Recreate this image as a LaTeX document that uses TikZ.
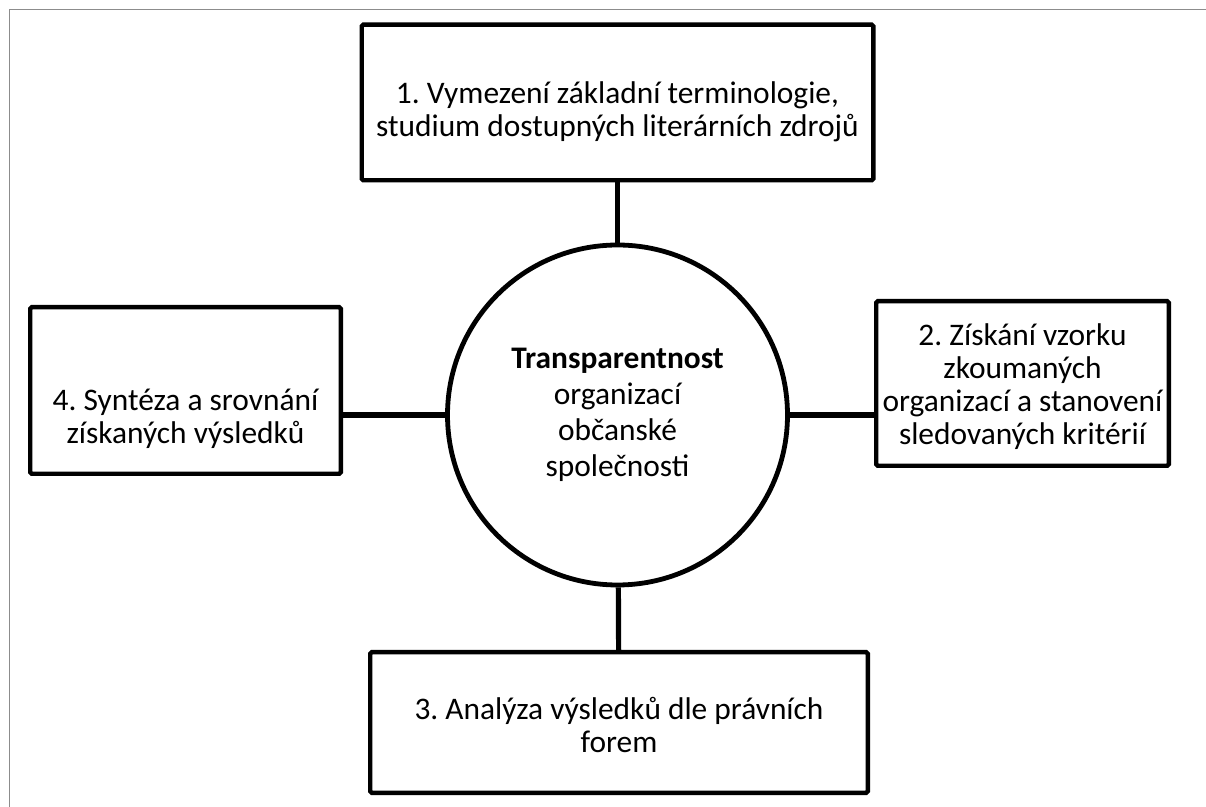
\documentclass[tikz,border=0pt]{standalone}
\usepackage{fontspec}
\setmainfont{Carlito}
\usetikzlibrary{positioning,calc}
\definecolor{pagegray}{HTML}{8C8C8C}
\frenchspacing

\begin{document}
\begin{tikzpicture}[x=0.5pt,y=-0.5pt,
        frame/.style={draw, line width=2.2pt, rounded corners=0.8pt, fill=white, inner sep=0pt},
        hub/.style={draw, circle, line width=2.4pt, fill=white, minimum size=170pt, inner sep=0pt, align=center},
        boxtext/.style={align=center, inner sep=0pt},
        link/.style={line width=2.6pt}]
            \useasboundingbox (0,0) rectangle (1206,807);
            \fontsize{15.7}{16.5}\selectfont
            % page edge
            \draw[pagegray, line width=0.5pt] (9,807) -- (9,10) -- (1206,10);

            % centre
            \node[hub] (hub) at (617.5,415) {\textbf{Transparentnost}\\[1.5pt]organizací\\[1.5pt]občanské\\[1.5pt]společnosti};

            % 1
            \node[frame, minimum width=255.8pt, minimum height=77.8pt] (b1) at (617.5,102.5) {};
            \node[boxtext] (t1) at (617.5,111.5) {1. Vymezení základní terminologie,\\studium dostupných literárních zdrojů};

            % 2
            \node[frame, minimum width=146.3pt, minimum height=82.3pt] (b2) at (1022.5,383.5) {};
            \node[boxtext] (t2) at (1022.5,387) {2. Získání vzorku\\zkoumaných\\organizací a stanovení\\sledovaných kritérií};

            % 3
            \node[frame, minimum width=248.8pt, minimum height=70.3pt] (b3) at (619,722.5) {};
            \node[boxtext] (t3) at (619,725) {3. Analýza výsledků dle právních\\forem};

            % 4
            \node[frame, minimum width=155.3pt, minimum height=83.3pt] (b4) at (185.5,390.5) {};
            \node[boxtext] (t4) at (185.5,419) {4. Syntéza a srovnání\\získaných výsledků};

            % connectors
            \draw[link] (hub) -- (b1);
            \draw[link] (hub) -- (b3);
            \draw[link] (hub.east) -- (hub.east -| b2.west);
            \draw[link] (hub.west) -- (hub.west -| b4.east);
        \end{tikzpicture}
\end{document}
